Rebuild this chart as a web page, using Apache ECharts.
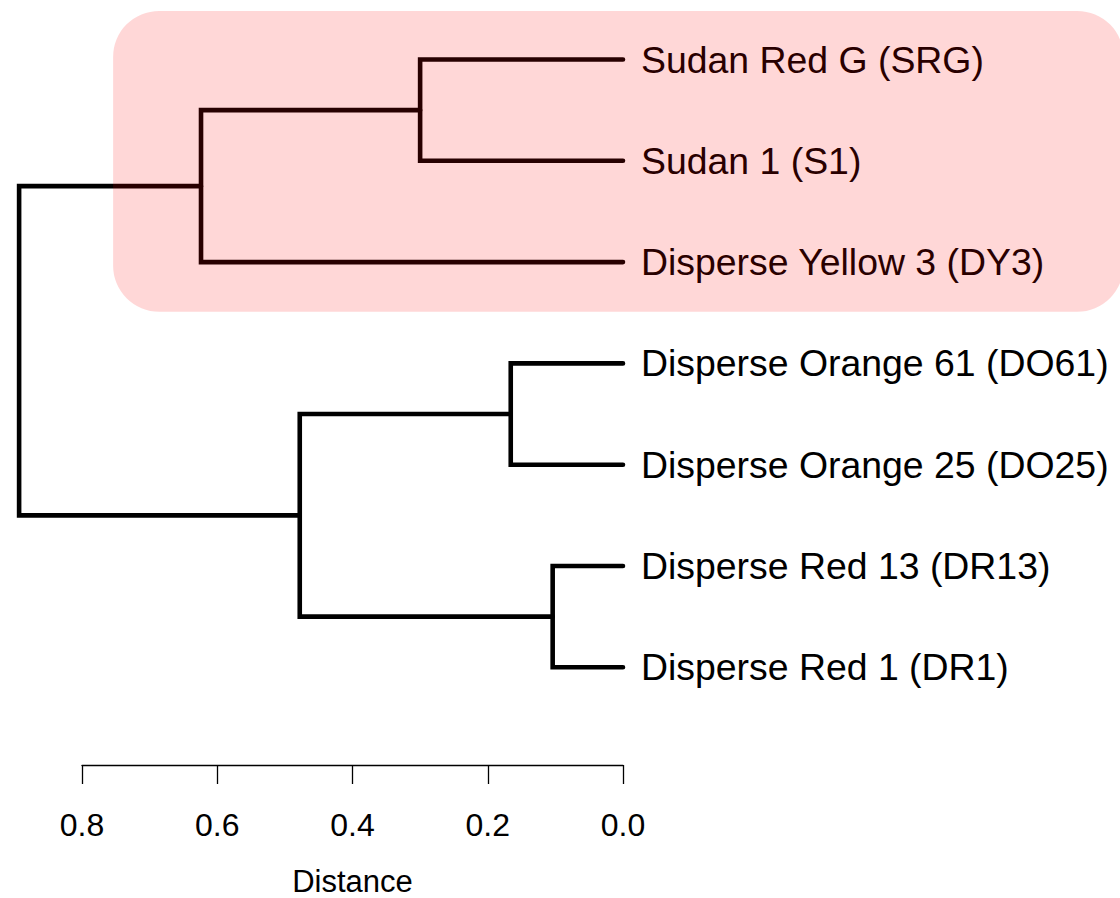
<!DOCTYPE html>
<html>
<head>
<meta charset="utf-8">
<script src="https://cdn.jsdelivr.net/npm/echarts@6/dist/echarts.min.js"></script>
<style>
html,body{margin:0;padding:0;background:#fff;}
#chart{width:1120px;height:898px;}
</style>
</head>
<body>
<div id="chart"></div>
<script>
// ---- data ----
var leafLabels = [
  'Sudan Red G (SRG)',
  'Sudan 1 (S1)',
  'Disperse Yellow 3 (DY3)',
  'Disperse Orange 61 (DO61)',
  'Disperse Orange 25 (DO25)',
  'Disperse Red 13 (DR13)',
  'Disperse Red 1 (DR1)'
];
// hclust-style merges: negative = leaf (1-based), positive = earlier merge (1-based)
var mergeChildren = [[-6, -7], [-4, -5], [-1, -2], [2, 1], [3, -3], [5, 4]];
var mergeHeights = [0.104, 0.166, 0.300, 0.478, 0.624, 0.893];
var distanceTicks = [0, 0.2, 0.4, 0.6, 0.8];
// highlighted cluster box: [distance left, leaf row top, distance right, leaf row bottom]
var highlightBox = [0.754, -0.48, -0.74, 2.49];

// ---- build dendrogram segments ----
var nodeY = [], nodeH = [];
function childInfo(c) {
  if (c < 0) return { y: -c - 1, h: 0 };
  return { y: nodeY[c - 1], h: nodeH[c - 1] };
}
var linkData = [];
mergeChildren.forEach(function (pair, i) {
  var a = childInfo(pair[0]), b = childInfo(pair[1]);
  var h = mergeHeights[i];
  nodeY.push((a.y + b.y) / 2);
  nodeH.push(h);
  linkData.push([a.h, a.y, h, b.y, b.h]);
});

var PX_PER_UNIT = 676.25;
var ZERO_X = 623;
var TREE_MAX = 0.9;

var chart = echarts.init(document.getElementById('chart'), null, { renderer: 'svg' });
var FONT = 'Liberation Sans, Arial, Helvetica, sans-serif';

var option = {
  animation: false,
  backgroundColor: '#ffffff',
  grid: [
    { left: ZERO_X - TREE_MAX * PX_PER_UNIT, right: 1120 - ZERO_X, top: 59.5, height: 6 * 101.3 },
    { left: ZERO_X - 0.8 * PX_PER_UNIT, right: 1120 - ZERO_X, top: 700, height: 67.5 }
  ],
  xAxis: [
    { gridIndex: 0, type: 'value', min: 0, max: TREE_MAX, inverse: true, show: false },
    {
      gridIndex: 1, type: 'value', min: 0, max: 0.8, interval: 0.2, inverse: true,
      position: 'bottom',
      axisLine: { show: true, lineStyle: { color: '#000', width: 1.3 } },
      axisTick: { show: true, length: 19, lineStyle: { color: '#000', width: 1.3 } },
      splitLine: { show: false },
      axisLabel: {
        margin: 44, fontSize: 32, color: '#000', fontFamily: FONT,
        formatter: function (v) { return v.toFixed(1); }
      },
      name: 'Distance', nameLocation: 'middle', nameGap: 101,
      nameTextStyle: { fontSize: 31, color: '#000', fontFamily: FONT }
    }
  ],
  yAxis: [
    {
      gridIndex: 0, type: 'value', min: 0, max: leafLabels.length - 1, interval: 1,
      inverse: true, position: 'right',
      axisLine: { show: false }, axisTick: { show: false }, splitLine: { show: false },
      axisLabel: {
        margin: 18, fontSize: 37.4, color: '#000', fontFamily: FONT,
        padding: [0, 0, 8, 0],
        formatter: function (v) { return leafLabels[Math.round(v)] || ''; }
      }
    },
    { gridIndex: 1, type: 'value', show: false }
  ],
  series: [
    {
      type: 'custom',
      xAxisIndex: 0, yAxisIndex: 0,
      z: 2,
      clip: false,
      data: linkData,
      renderItem: function (params, api) {
        var p1 = api.coord([api.value(0), api.value(1)]);
        var p2 = api.coord([api.value(2), api.value(1)]);
        var p3 = api.coord([api.value(2), api.value(3)]);
        var p4 = api.coord([api.value(4), api.value(3)]);
        return {
          type: 'polyline',
          shape: { points: [p1, p2, p3, p4] },
          style: { stroke: '#000', lineWidth: 4.6, fill: null, lineCap: 'round', lineJoin: 'miter' }
        };
      }
    },
    {
      type: 'custom',
      xAxisIndex: 0, yAxisIndex: 0,
      z: 10,
      clip: false,
      data: [highlightBox],
      renderItem: function (params, api) {
        var a = api.coord([api.value(0), api.value(1)]);
        var b = api.coord([api.value(2), api.value(3)]);
        return {
          type: 'rect',
          shape: { x: a[0], y: a[1], width: b[0] - a[0], height: b[1] - a[1], r: 46 },
          style: { fill: 'rgba(255,0,0,0.155)', stroke: null }
        };
      }
    }
  ]
};
chart.setOption(option);
</script>
</body>
</html>
